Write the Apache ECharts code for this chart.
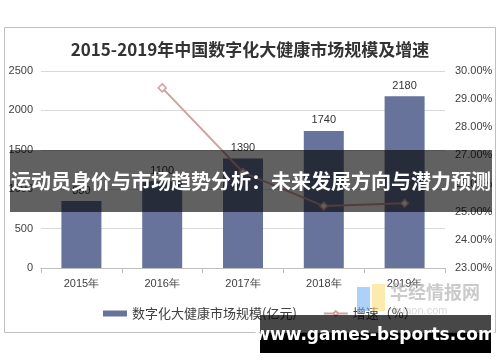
<!DOCTYPE html>
<html><head><meta charset="utf-8">
<script src="https://cdn.jsdelivr.net/npm/echarts@6/dist/echarts.min.js"></script>
<style>html,body{margin:0;padding:0;background:#fff}#c{width:500px;height:362px}</style>
</head><body><div id="c"></div>
<script>
const categories = ['2015年','2016年','2017年','2018年','2019年'];
const marketSize = [850, 1100, 1390, 1740, 2180];
const growthRate = [null, 29.4, 26.4, 25.2, 25.3];
const titleText = '2015-2019年中国数字化大健康市场规模及增速';
const barName = '数字化大健康市场规模(亿元)';
const lineName = '增速（%）';
const bannerText = '运动员身价与市场趋势分析：未来发展方向与潜力预测';
const watermarkText = 'www.games-bsports.com';

const chart = echarts.init(document.getElementById('c'), null, {renderer:'canvas'});
const lab = {color:'#404040', fontSize:11, fontFamily:'Liberation Sans, Arial, sans-serif'};
chart.setOption({
  animation:false,
  title:{text:titleText, left:'center', top:36, textStyle:{fontSize:17, fontWeight:'bold', color:'#333', fontFamily:'Noto Sans CJK SC'}},
  grid:{left:41, right:55, top:71, bottom:94},
  legend:{bottom:37, left:98, itemGap:26, itemWidth:24, itemHeight:6,
    textStyle:{fontSize:13, color:'#404040', fontFamily:'Noto Sans CJK SC'},
    data:[{name:barName, icon:'rect'},{name:lineName}]},
  xAxis:{type:'category', data:categories,
    axisLine:{lineStyle:{color:'#bfbfbf'}}, axisTick:{show:true, lineStyle:{color:'#bfbfbf'}},
    axisLabel:Object.assign({margin:10}, lab)},
  yAxis:[
    {type:'value', min:0, max:2500, interval:500, axisLabel:Object.assign({margin:8, formatter:v=>String(v)}, lab),
     splitLine:{lineStyle:{color:'#d9d9d9'}}, axisLine:{show:false}, axisTick:{show:false}},
    {type:'value', min:23, max:30, interval:1, position:'right',
     axisLabel:Object.assign({margin:10, formatter:v=>v.toFixed(2)+'%'}, lab),
     splitLine:{show:false}, axisLine:{show:false}, axisTick:{show:false}}
  ],
  series:[
    {name:barName, type:'bar', data:marketSize, barWidth:40, yAxisIndex:0,
     itemStyle:{color:'#68739b'},
     label:{show:true, position:'top', color:'#333', fontSize:11, fontFamily:'Liberation Sans, Arial, sans-serif'}},
    {name:lineName, type:'line', data:growthRate, yAxisIndex:1, symbol:'diamond', symbolSize:8,
     lineStyle:{color:'#d4a0a0', width:2}, itemStyle:{color:'#fff', borderColor:'#d4a0a0', borderWidth:1.5}}
  ],
  graphic:[
    {type:'rect', shape:{x:4.5, y:27.5, width:491, height:305}, style:{fill:null, stroke:'#bfbfbf', lineWidth:1}, z:-1},
    {type:'rect', shape:{x:357, y:287, width:13, height:24}, style:{fill:'rgba(110,170,240,0.55)'}, z:5},
    {type:'rect', shape:{x:372, y:284, width:13, height:27}, style:{fill:'rgba(250,220,120,0.6)'}, z:5},
    {type:'text', x:390, y:283, style:{text:'华经情报网', fontSize:18, fontWeight:'bold', fill:'rgba(180,180,180,0.7)', fontFamily:'Noto Sans CJK SC'}, z:5},
    {type:'text', x:393, y:305, style:{text:'huaon.com', fontSize:11, fill:'rgba(190,190,190,0.6)', fontFamily:'Liberation Sans'}, z:5},
    {type:'rect', shape:{x:10, y:150, width:482, height:62}, style:{fill:'rgba(0,0,0,0.62)'}, z:100},
    {type:'text', x:251, y:181, style:{text:bannerText, fontSize:20, fontWeight:'bold', fill:'#fff', align:'center', verticalAlign:'middle', fontFamily:'Noto Sans CJK SC'}, z:101},
    {type:'rect', shape:{x:260, y:315, width:231, height:18}, style:{fill:'rgba(0,0,0,0.72)'}, z:100},
    {type:'rect', shape:{x:260, y:333, width:231, height:20}, style:{fill:'#000'}, z:100},
    {type:'text', x:375, y:336, style:{text:watermarkText, fontSize:17, fontWeight:'bold', fill:'#fff', align:'center', verticalAlign:'middle', fontFamily:'DejaVu Sans'}, z:101}
  ]
});
</script></body></html>
